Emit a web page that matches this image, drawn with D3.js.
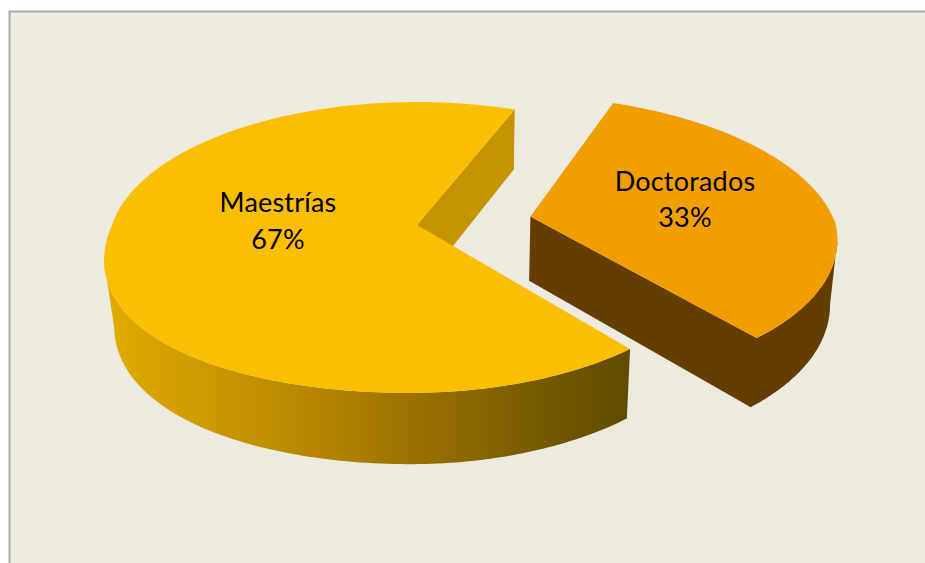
<!DOCTYPE html>
<html>
<head>
<meta charset="utf-8">
<script src="https://cdn.jsdelivr.net/npm/d3@7"></script>
<style>
  html, body { margin: 0; padding: 0; background: #fff; }
  svg { display: block; }
  text { font-family: Lato, "Open Sans", sans-serif; fill: #000; text-anchor: middle; letter-spacing: 0.2px; }
</style>
</head>
<body>
<div id="chart"></div>
<script>
const WIDTH = 925;
const HEIGHT = 563;

// data
const categories = ["Doctorados", "Maestrías"];
const values = [33, 67];
const labels = ["33%", "67%"];

// colours per slice
const TOP_COLORS = ["#f39e00", "#fbbe00"];
const WALL_COLORS = ["#633e00", "#c39300"];

const svg = d3.select("#chart").append("svg")
  .attr("width", WIDTH)
  .attr("height", HEIGHT);

// frame
svg.append("rect").attr("x", 0).attr("y", 0).attr("width", WIDTH).attr("height", HEIGHT).attr("fill", "#fff");
svg.append("rect").attr("x", 9.5).attr("y", 11.5).attr("width", WIDTH + 20).attr("height", HEIGHT + 20)
  .attr("fill", "#edeae0").attr("stroke", "#aeaaa6").attr("stroke-width", 2);

// side gradient of the big slice
const defs = svg.append("defs");
const grad = defs.append("linearGradient").attr("id", "wall")
  .attr("gradientUnits", "userSpaceOnUse")
  .attr("x1", 106).attr("x2", 630).attr("y1", 0).attr("y2", 0);
grad.append("stop").attr("offset", "0").attr("stop-color", "#e2ac00");
grad.append("stop").attr("offset", "0.45").attr("stop-color", "#b08000");
grad.append("stop").attr("offset", "0.8").attr("stop-color", "#7a5c00");
grad.append("stop").attr("offset", "1").attr("stop-color", "#5f4b00");

// pie plane -> screen, with a bit of perspective (far side is smaller)
const K = -0.1546;
const xScale = d3.scaleLinear().domain([-1, 1]).range([112, 722]);
const yScale = d3.scaleLinear().domain([-1, 1]).range([117.8, 332.2]);

function topPoint(u, v) {
  const w = 1 + K * v;
  // near side leans left in the reference, and bulges at lower left
  let lean = v > 0 ? 17 * v * (1 - 0.5 * v) : 0;
  if (v > 0 && u < 0) lean += 33 * -u * v * v;
  return [xScale(u / w) - lean, yScale(v) / w];
}

// lower rim is the same shape moved down and pulled in slightly
function bottomPoint(p) {
  const pull = p[0] > 468 ? 0.02 : 0.0276;
  return [p[0] - pull * (p[0] - 468), 1.04 * p[1] + 55.5];
}

const rad = (deg) => deg * Math.PI / 180;
const line = d3.line();

const pie = d3.pie().sort(null).startAngle(rad(21.5)).endAngle(rad(381.5));
const slices = pie(values);

// how far the small slice is pulled out
const EXPLODE = 0.38;

function rim(a0, a1, off) {
  return d3.range(0, 241).map((i) => {
    const a = a0 + (a1 - a0) * i / 240;
    return topPoint(Math.sin(a) + off[0], -Math.cos(a) + off[1]);
  });
}

function offsetOf(d, amount) {
  const mid = (d.startAngle + d.endAngle) / 2;
  return [amount * Math.sin(mid), -amount * Math.cos(mid)];
}

function wall(points) {
  return line(points.concat(points.map(bottomPoint).reverse())) + "Z";
}

// Doctorados, exploded
const d0 = slices[0];
const off0 = offsetOf(d0, EXPLODE);
const apex0 = topPoint(off0[0], off0[1]);
const rim0 = rim(d0.startAngle, d0.endAngle, off0);
const right0 = d3.greatestIndex(rim0, (p) => p[0]);

svg.append("path").attr("d", wall(rim0.slice(right0).concat([apex0]))).attr("fill", WALL_COLORS[0]);
svg.append("path").attr("d", line([apex0].concat(rim0)) + "Z").attr("fill", TOP_COLORS[0]);

// Maestrías
const d1 = slices[1];
const apex1 = topPoint(0, 0);
const rim1 = rim(d1.startAngle, d1.endAngle, [0, 0]);
const left1 = d3.leastIndex(rim1, (p) => p[0]);

svg.append("path").attr("d", wall([rim1[rim1.length - 1], apex1])).attr("fill", WALL_COLORS[1]);
svg.append("path").attr("d", wall(rim1.slice(0, left1 + 1))).attr("fill", "url(#wall)");
svg.append("path").attr("d", line([apex1].concat(rim1)) + "Z").attr("fill", TOP_COLORS[1]);

// labels
const LABEL_POS = [[685, 191, 227], [278, 212, 249]];
categories.forEach((c, i) => {
  svg.append("text").attr("x", LABEL_POS[i][0]).attr("y", LABEL_POS[i][1]).attr("font-size", 27).text(c);
  svg.append("text").attr("x", LABEL_POS[i][0]).attr("y", LABEL_POS[i][2]).attr("font-size", 27).text(labels[i]);
});
</script>
</body>
</html>
